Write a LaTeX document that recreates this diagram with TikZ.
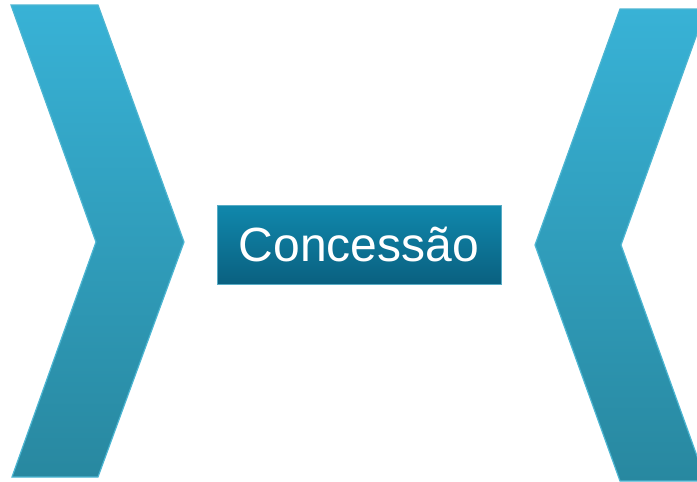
\documentclass[tikz,border=0pt]{standalone}
\usepackage{fontspec}
\setmainfont{Liberation Sans}
\definecolor{chevtop}{HTML}{38B2D6}
\definecolor{chevbot}{HTML}{2888A0}
\definecolor{chevline}{HTML}{4DB6D2}
\definecolor{boxtop}{HTML}{1088AC}
\definecolor{boxbot}{HTML}{0A6080}
\tikzset{
  chevron/.style={top color=chevtop, bottom color=chevbot, draw=chevline, line width=1.2pt, line join=miter},
  titlebox/.style={top color=boxtop, bottom color=boxbot, draw=boxtop!70!white, line width=0.8pt,
    minimum width=284pt, minimum height=79pt, inner sep=0pt, text=white, font=\fontsize{48}{56}\selectfont}
}
\begin{document}
\begin{tikzpicture}[x=1pt, y=-1pt]
  \useasboundingbox (0,0) rectangle (697,482);
  \clip (0,0) rectangle (697,482);
  % Left chevron
  \shade[chevron] (11,5) -- (98,5) -- (184,242) -- (98,477) -- (12,477) -- (96,242) -- cycle;
  % Right chevron, cut off at the edge
  \shade[chevron] (620,9) -- (706,9) -- (621,245) -- (706,481) -- (620,481) -- (535,245) -- cycle;
  % Title box
  \node[titlebox] (concessao) at (359,244.5) {Concessão};
\end{tikzpicture}
\end{document}
